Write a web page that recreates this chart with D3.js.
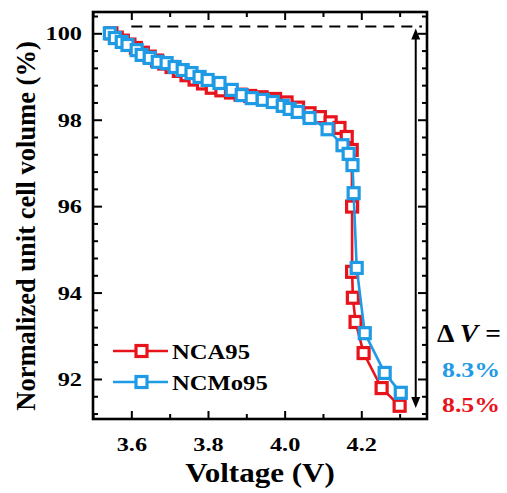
<!DOCTYPE html>
<html>
<head>
<meta charset="utf-8">
<script src="https://cdn.jsdelivr.net/npm/d3@7"></script>
<style>
  html, body { margin: 0; padding: 0; background: #fff; }
  svg { display: block; }
</style>
</head>
<body>
<svg id="chart" width="507" height="493"></svg>
<script>
// ---- data ----
const seriesNames = ["NCA95", "NCMo95"];
const ncaVoltage = [3.548,3.562,3.578,3.595,3.612,3.63,3.648,3.667,3.686,3.705,3.724,3.744,3.765,3.787,3.81,3.835,3.86,3.885,3.91,3.94,3.975,4.005,4.035,4.065,4.092,4.12,4.143,4.162,4.175,4.176,4.176,4.178,4.185,4.206,4.253,4.30];
const ncaVolume  = [100.0,99.90,99.83,99.74,99.66,99.55,99.46,99.37,99.30,99.22,99.13,99.03,98.93,98.84,98.74,98.68,98.63,98.58,98.55,98.52,98.48,98.40,98.28,98.15,98.06,97.94,97.81,97.60,97.30,95.99,94.48,93.88,93.32,92.60,91.79,91.38];
const ncmoVoltage = [3.544,3.557,3.575,3.59,3.614,3.627,3.648,3.669,3.692,3.713,3.734,3.757,3.778,3.799,3.830,3.862,3.888,3.914,3.943,3.969,3.995,4.013,4.034,4.065,4.112,4.151,4.167,4.177,4.180,4.188,4.209,4.261,4.303];
const ncmoVolume  = [100.0,99.89,99.80,99.73,99.61,99.50,99.43,99.34,99.31,99.22,99.15,99.08,98.99,98.92,98.85,98.69,98.57,98.50,98.46,98.41,98.32,98.25,98.18,98.04,97.78,97.41,97.21,96.95,96.30,94.57,93.06,92.14,91.68];
const xTickValues = [3.6, 3.8, 4.0, 4.2];
const xMinorValues = [3.5, 3.7, 3.9, 4.1, 4.3];
const yTickValues = [92, 94, 96, 98, 100];
const yMinorValues = [91.2,91.6,92.4,92.8,93.2,93.6,94.4,94.8,95.2,95.6,96.4,96.8,97.2,97.6,98.4,98.8,99.2,99.6,100.4];
const deltaLabels = ["8.3%", "8.5%"];
const refLevel = 100.16;   // dashed reference line
const arrowBottom = 91.4;
const arrowVoltage = 4.342;

// ---- layout ----
const FONT = "'Liberation Serif', 'Times New Roman', Tinos, 'DejaVu Serif', serif";
const RED = "#e8141c", BLUE = "#1f9be6";
const svg = d3.select("#chart").attr("font-family", FONT).attr("font-weight", "bold");
const L = 93, R = 427, T = 12, B = 419;
const x = d3.scaleLinear().domain([3.5, 4.3714]).range([L, R]);
const y = d3.scaleLinear().domain([91.074, 100.493]).range([B, T]);

const series = [
  {name: seriesNames[0], color: RED, pts: ncaVoltage.map((v, i) => [v, ncaVolume[i]])},
  {name: seriesNames[1], color: BLUE, pts: ncmoVoltage.map((v, i) => [v, ncmoVolume[i]])}
];

function styleAxis(g, labels) {
  g.attr("font-family", null).attr("font-size", null);
  g.select(".domain").remove();
  g.selectAll(".tick line").attr("stroke", "#000").attr("stroke-width", 2);
  if (!labels) g.selectAll(".tick text").remove();
}
function styleText(sel) {
  sel.style("font-family", FONT).style("font-weight", "bold");
}
svg.append("g").attr("transform", `translate(0,${B})`)
  .call(d3.axisBottom(x).tickValues(xTickValues).tickSize(-8).tickFormat(d3.format(".1f")))
  .call(g => styleAxis(g, true))
  .call(g => g.selectAll(".tick text").attr("y", 0).attr("dy", null)
      .attr("transform", "translate(0,32) scale(1.28,1)")
      .attr("font-size", 19).attr("fill", "#000").call(styleText));
svg.append("g").attr("transform", `translate(0,${B})`)
  .call(d3.axisBottom(x).tickValues(xMinorValues).tickSize(-5)).call(g => styleAxis(g, false));
svg.append("g").attr("transform", `translate(0,${T})`)
  .call(d3.axisTop(x).tickValues(xTickValues).tickSize(-8)).call(g => styleAxis(g, false));
svg.append("g").attr("transform", `translate(0,${T})`)
  .call(d3.axisTop(x).tickValues(xMinorValues).tickSize(-5)).call(g => styleAxis(g, false));

svg.append("g").attr("transform", `translate(${L},0)`)
  .call(d3.axisLeft(y).tickValues(yTickValues).tickSize(-9).tickFormat(d3.format("d")))
  .call(g => styleAxis(g, true))
  .call(g => g.selectAll(".tick text").attr("x", 0).attr("dy", "0.35em")
      .attr("transform", "translate(-11,0) scale(1.28,1)")
      .attr("font-size", 19).attr("fill", "#000").call(styleText));
svg.append("g").attr("transform", `translate(${L},0)`)
  .call(d3.axisLeft(y).tickValues(yMinorValues).tickSize(-5)).call(g => styleAxis(g, false));
svg.append("g").attr("transform", `translate(${R},0)`)
  .call(d3.axisRight(y).tickValues(yTickValues).tickSize(-9)).call(g => styleAxis(g, false));
svg.append("g").attr("transform", `translate(${R},0)`)
  .call(d3.axisRight(y).tickValues(yMinorValues).tickSize(-5)).call(g => styleAxis(g, false));

// frame
svg.append("rect").attr("x", L).attr("y", T).attr("width", R - L).attr("height", B - T)
  .attr("fill", "none").attr("stroke", "#000").attr("stroke-width", 2.6);

// dashed reference line
svg.append("line").attr("x1", x(3.6)).attr("x2", x(4.34) + 7).attr("y1", y(refLevel)).attr("y2", y(refLevel))
  .attr("stroke", "#000").attr("stroke-width", 2).attr("stroke-dasharray", "11,7");

// double arrow
const ax = x(arrowVoltage), ay1 = y(refLevel) + 2, ay2 = y(arrowBottom) + 3;
svg.append("line").attr("x1", ax).attr("x2", ax).attr("y1", ay1 + 6).attr("y2", ay2 - 6)
  .attr("stroke", "#000").attr("stroke-width", 2);
svg.append("path").attr("d", `M${ax},${ay1} L${ax - 4.5},${ay1 + 11} L${ax + 4.5},${ay1 + 11} Z`).attr("fill", "#000");
svg.append("path").attr("d", `M${ax},${ay2} L${ax - 4.5},${ay2 - 11} L${ax + 4.5},${ay2 - 11} Z`).attr("fill", "#000");

// series
const line = d3.line().x(d => x(d[0])).y(d => y(d[1]));
const MS = 11;
series.forEach(s => {
  const g = svg.append("g");
  g.append("path").attr("d", line(s.pts)).attr("fill", "none").attr("stroke", s.color).attr("stroke-width", 2.6);
  g.selectAll("rect").data(s.pts).join("rect")
    .attr("x", d => x(d[0]) - MS / 2).attr("y", d => y(d[1]) - MS / 2)
    .attr("width", MS).attr("height", MS)
    .attr("fill", "#fff").attr("stroke", s.color).attr("stroke-width", 3.2);
});

// legend
const legY = [351, 382];
series.forEach((s, i) => {
  const g = svg.append("g").attr("transform", `translate(0,${legY[i]})`);
  g.append("line").attr("x1", 113).attr("x2", 168).attr("stroke", s.color).attr("stroke-width", 2.6);
  g.append("rect").attr("x", 141.5 - MS / 2).attr("y", -MS / 2).attr("width", MS).attr("height", MS)
    .attr("fill", "#fff").attr("stroke", s.color).attr("stroke-width", 3.2);
  g.append("text").attr("transform", "translate(172,7.5) scale(1.12,1)").attr("font-size", 22)
    .call(styleText).text(s.name);
});

// axis titles
svg.append("text").attr("transform", "translate(260,482) scale(1.15,1)")
  .attr("text-anchor", "middle").attr("font-size", 27).call(styleText).text("Voltage (V)");
svg.append("text").attr("transform", "translate(35,226) rotate(-90)")
  .attr("text-anchor", "middle").attr("font-size", 26.5).call(styleText).text("Normalized unit cell volume (%)");

// delta V annotation
const dv = svg.append("text").attr("x", 437).attr("y", 342).attr("font-size", 25).call(styleText)
  .attr("textLength", 64).attr("lengthAdjust", "spacingAndGlyphs");
dv.append("tspan").text("Δ\u2009");
dv.append("tspan").attr("font-style", "italic").text("V");
dv.append("tspan").text(" =");
svg.append("text").attr("x", 442).attr("y", 377).attr("font-size", 22).call(styleText).style("fill", BLUE)
  .attr("textLength", 58).attr("lengthAdjust", "spacingAndGlyphs").text(deltaLabels[0]);
svg.append("text").attr("x", 442).attr("y", 412).attr("font-size", 22).call(styleText).style("fill", RED)
  .attr("textLength", 58).attr("lengthAdjust", "spacingAndGlyphs").text(deltaLabels[1]);
</script>
</body>
</html>
